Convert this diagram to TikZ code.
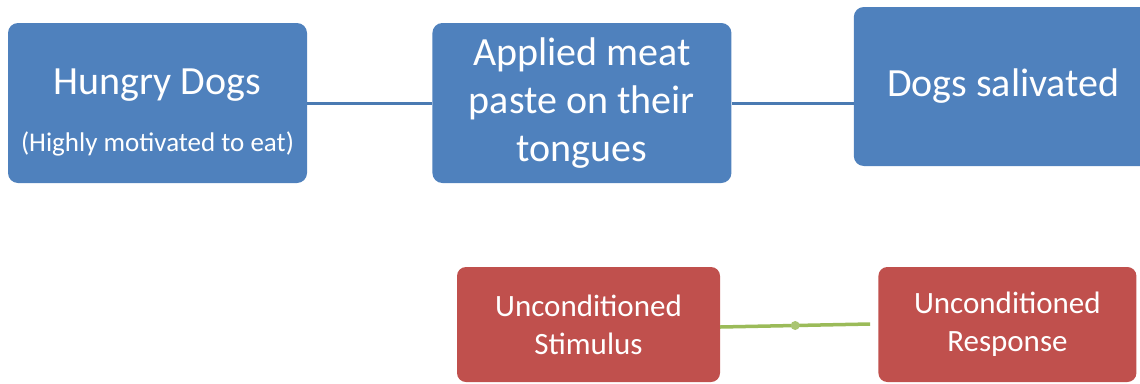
\documentclass[tikz,border=0pt]{standalone}
\usepackage{fontspec}
\setmainfont{Carlito}
\usetikzlibrary{positioning}

\definecolor{boxblue}{HTML}{4F81BD}
\definecolor{boxred}{HTML}{C0504D}
\definecolor{lineblue}{HTML}{4A7AB2}
\definecolor{linegreen}{HTML}{9BBB59}

\begin{document}
\begin{tikzpicture}[x=1pt, y=-1pt, node distance=125pt,
        blueblock/.style={rectangle, rounded corners=10pt, fill=boxblue, text=white,
            minimum width=299pt, minimum height=160pt, inner sep=0pt, align=center,
            font=\fontsize{40}{48}\selectfont},
        redblock/.style={rectangle, rounded corners=9pt, fill=boxred, text=white,
            minimum width=263pt, minimum height=115pt, inner sep=0pt, align=center,
            font=\fontsize{31}{38}\selectfont},
        blueline/.style={draw=lineblue, line width=3pt},
        greenline/.style={draw=linegreen, line width=3.5pt},
        knot/.style={circle, fill=linegreen!85!white, inner sep=0pt, minimum size=9pt}]
            \useasboundingbox (0,0) rectangle (1140,383);

            \node[blueblock] (hungry) at (157.5,103) {\rule{0pt}{44pt}Hungry Dogs\\[9pt]{\fontsize{27}{32}\selectfont (Highly motivated to eat)}};
            \node[blueblock] (paste) [right=125pt of hungry] {Applied meat\\paste on their\\tongues};
            \node[blueblock, minimum height=159pt] (salivated) [right=122pt of paste, yshift=16.5pt] {Dogs salivated};
            \node[redblock] (stimulus) at (588.5,324.5) {Unconditioned\\Stimulus};
            \node[redblock, minimum width=258pt] (response) [right=158pt of stimulus] {Unconditioned\\Response};

            \path[blueline]
                (hungry) -- (paste)
                (paste.east) -- (paste.east -| salivated.west);
            \path[greenline]
                ([yshift=-2.5pt]stimulus.east) -- node[knot] {} ([xshift=-8pt, yshift=0.5pt]response.west);
        \end{tikzpicture}
\end{document}
